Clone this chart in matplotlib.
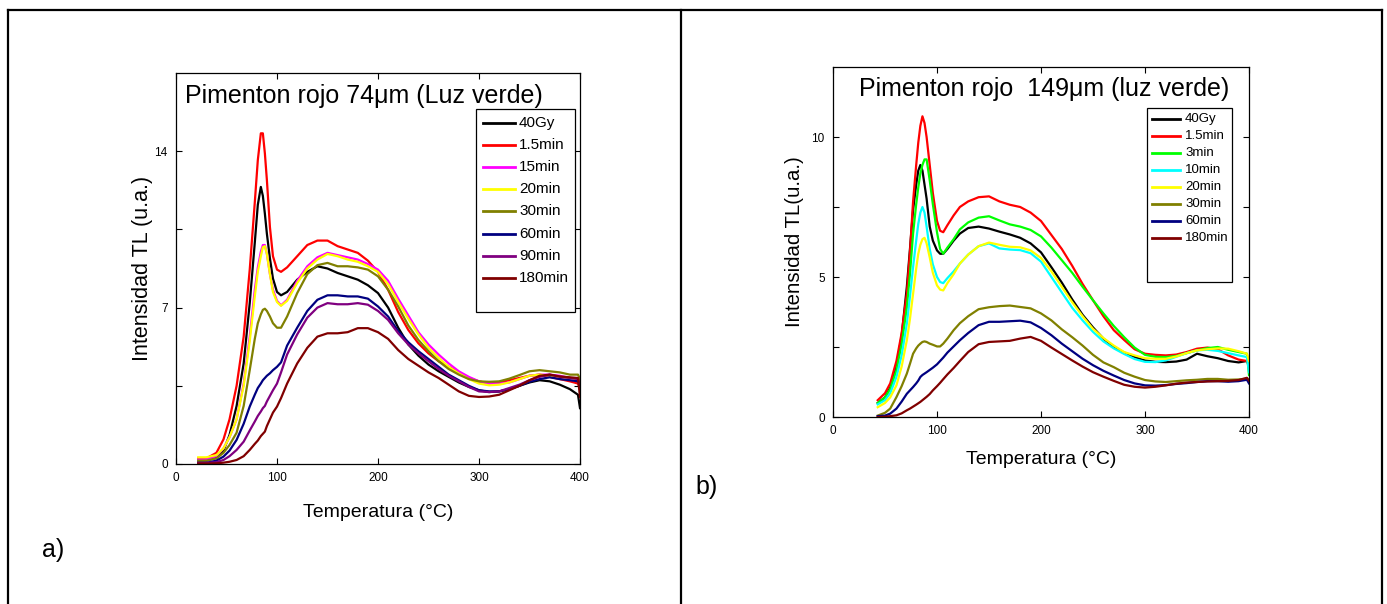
import matplotlib
matplotlib.use("Agg")
import matplotlib.pyplot as plt
from matplotlib.lines import Line2D
from matplotlib.patches import Rectangle

plt.rcParams['font.family'] = ['Liberation Sans', 'DejaVu Sans']

# ---------------- Panel a) data ----------------
temp_a = [22, 30, 40, 47, 53, 60, 67, 73, 78, 81, 84, 86, 88, 90, 93, 96, 100, 104, 110, 120,
          130, 140, 150, 160, 170, 180, 190, 200, 210, 220, 230, 240, 250, 260, 270, 280, 290,
          300, 310, 320, 330, 340, 350, 360, 370, 380, 390, 398, 400]
labels_a = ['40Gy', '1.5min', '15min', '20min', '30min', '60min', '90min', '180min']
colors_a = ['#000000', '#ff0000', '#ff00ff', '#ffff00', '#808000', '#000080', '#800080', '#800000']

a_40gy = [0.15, 0.15, 0.3, 0.6, 1.3, 2.6, 4.5, 7.2, 9.9, 11.6, 12.4, 12.0, 11.2, 10.3, 9.2, 8.3, 7.7, 7.55, 7.7, 8.25,
          8.6, 8.85, 8.75, 8.55, 8.4, 8.25, 8.0, 7.65, 7.0, 6.1, 5.35, 4.85, 4.45, 4.15, 3.9, 3.65, 3.45,
          3.3, 3.22, 3.25, 3.35, 3.5, 3.65, 3.75, 3.7, 3.55, 3.35, 3.1, 2.5]
a_1p5 = [0.25, 0.25, 0.5, 1.1, 2.0, 3.5, 5.7, 8.7, 11.7, 13.6, 14.8, 14.8, 13.9, 12.7, 10.6, 9.3, 8.7, 8.6, 8.8, 9.3,
         9.8, 10.0, 10.0, 9.75, 9.6, 9.45, 9.1, 8.6, 7.8, 6.8, 6.0, 5.4, 4.95, 4.6, 4.35, 4.1, 3.85,
         3.7, 3.6, 3.65, 3.75, 3.85, 3.95, 4.0, 3.9, 3.8, 3.7, 3.6, 3.4]
a_15 = [0.2, 0.2, 0.35, 0.7, 1.2, 2.0, 3.6, 5.7, 7.8, 8.8, 9.5, 9.8, 9.8, 9.4, 8.5, 7.8, 7.3, 7.1, 7.35, 8.2,
        8.85, 9.25, 9.45, 9.35, 9.25, 9.15, 8.95, 8.7, 8.2, 7.4, 6.65, 5.9, 5.35, 4.9, 4.5, 4.15, 3.9,
        3.7, 3.6, 3.6, 3.65, 3.8, 3.95, 4.0, 4.0, 3.95, 3.85, 3.8, 3.6]
a_20 = [0.3, 0.3, 0.4, 0.7, 1.2, 2.0, 3.5, 5.5, 7.5, 8.6, 9.3, 9.7, 9.75, 9.4, 8.5, 7.7, 7.25, 7.08, 7.3, 8.1,
        8.75, 9.15, 9.4, 9.3, 9.15, 9.05, 8.85, 8.6, 8.05, 7.25, 6.5, 5.8, 5.2, 4.75, 4.35, 4.05, 3.8,
        3.6, 3.52, 3.55, 3.65, 3.8, 3.95, 4.0, 3.95, 3.9, 3.85, 3.8, 3.6]
a_30 = [0.15, 0.15, 0.25, 0.5, 0.85, 1.4, 2.6, 4.2, 5.6, 6.3, 6.7, 6.9, 6.95, 6.85, 6.6, 6.3, 6.1, 6.1, 6.6, 7.65,
        8.5, 8.9, 9.0, 8.85, 8.85, 8.8, 8.7, 8.4, 7.8, 7.05, 6.2, 5.55, 5.05, 4.6, 4.25, 4.0, 3.8,
        3.7, 3.68, 3.7, 3.82, 3.98, 4.15, 4.2, 4.15, 4.1, 4.0, 4.0, 3.8]
a_60 = [0.05, 0.05, 0.15, 0.33, 0.6, 1.08, 1.8, 2.57, 3.1, 3.4, 3.6, 3.75, 3.85, 3.95, 4.06, 4.2, 4.35, 4.55, 5.3, 6.1,
        6.85, 7.35, 7.55, 7.55, 7.5, 7.5, 7.4, 7.05, 6.6, 5.95, 5.45, 5.05, 4.7, 4.35, 4.0, 3.75, 3.5,
        3.3, 3.25, 3.25, 3.35, 3.5, 3.68, 3.8, 3.88, 3.8, 3.75, 3.7, 3.5]
a_90 = [0.05, 0.05, 0.08, 0.18, 0.35, 0.63, 1.0, 1.5, 1.9, 2.15, 2.35, 2.5, 2.6, 2.8, 3.05, 3.3, 3.6, 4.1, 4.9, 5.8,
        6.55, 7.0, 7.2, 7.15, 7.15, 7.2, 7.13, 6.85, 6.45, 5.85, 5.35, 4.95, 4.6, 4.25, 3.95, 3.7, 3.45,
        3.25, 3.22, 3.25, 3.4, 3.55, 3.75, 3.9, 4.0, 3.9, 3.85, 3.8, 3.6]
a_180 = [0.02, 0.02, 0.03, 0.06, 0.1, 0.18, 0.35, 0.63, 0.9, 1.05, 1.25, 1.35, 1.45, 1.7, 2.0, 2.3, 2.57, 2.95, 3.6, 4.5,
         5.2, 5.7, 5.85, 5.85, 5.9, 6.08, 6.08, 5.9, 5.6, 5.1, 4.7, 4.4, 4.1, 3.85, 3.55, 3.25, 3.05,
         3.0, 3.02, 3.1, 3.3, 3.5, 3.75, 3.95, 4.0, 3.92, 3.88, 3.85, 3.0]
series_a = [a_40gy, a_1p5, a_15, a_20, a_30, a_60, a_90, a_180]

# ---------------- Panel b) data ----------------
temp_b = [43, 50, 55, 61, 66, 71, 74, 77, 80, 82, 84, 86, 88, 90, 93, 96, 100, 103, 106, 110, 116, 122,
          130, 140, 150, 160, 170, 180, 190, 200, 210, 220, 230, 240, 250, 260, 270, 280, 290, 300,
          310, 320, 330, 340, 350, 360, 370, 380, 390, 398, 400]
labels_b = ['40Gy', '1.5min', '3min', '10min', '20min', '30min', '60min', '180min']
colors_b = ['#000000', '#ff0000', '#00ff00', '#00ffff', '#ffff00', '#808000', '#000080', '#800000']

b_40gy = [0.5, 0.7, 1.05, 1.8, 2.9, 4.65, 6.0, 7.4, 8.3, 8.8, 9.0, 8.8, 8.3, 7.8, 6.8, 6.3, 5.95, 5.83, 5.83, 6.0, 6.3, 6.55,
          6.75, 6.8, 6.73, 6.62, 6.52, 6.4, 6.2, 5.88, 5.35, 4.8, 4.2, 3.65, 3.2, 2.8, 2.5, 2.3, 2.14, 2.02,
          1.97, 1.96, 1.98, 2.05, 2.26, 2.17, 2.1, 2.0, 1.95, 2.0, 1.9]
b_1p5 = [0.6, 0.85, 1.2, 2.0, 3.0, 4.4, 5.9, 7.7, 9.0, 9.8, 10.4, 10.74, 10.5, 10.0, 9.0, 8.0, 7.0, 6.65, 6.6, 6.85, 7.2, 7.5,
         7.7, 7.85, 7.88, 7.7, 7.58, 7.5, 7.3, 7.0, 6.5, 6.0, 5.4, 4.75, 4.17, 3.6, 3.1, 2.75, 2.42, 2.26,
         2.22, 2.2, 2.23, 2.32, 2.44, 2.48, 2.42, 2.2, 2.05, 2.0, 1.8]
b_3 = [0.5, 0.7, 1.0, 1.67, 2.6, 3.9, 5.1, 6.55, 7.6, 8.2, 8.7, 9.0, 9.2, 9.2, 8.45, 7.6, 6.6, 6.0, 5.83, 6.05, 6.35, 6.7,
       6.95, 7.12, 7.17, 7.02, 6.88, 6.8, 6.68, 6.45, 6.05, 5.6, 5.15, 4.65, 4.17, 3.7, 3.25, 2.85, 2.48, 2.22,
       2.15, 2.14, 2.18, 2.28, 2.38, 2.46, 2.5, 2.4, 2.32, 2.26, 1.5]
b_10 = [0.45, 0.6, 0.85, 1.43, 2.2, 3.33, 4.3, 5.36, 6.3, 6.9, 7.3, 7.5, 7.3, 6.8, 6.0, 5.45, 5.0, 4.82, 4.78, 4.96, 5.2, 5.48,
        5.8, 6.1, 6.2, 6.02, 5.98, 5.96, 5.85, 5.55, 5.0, 4.45, 3.9, 3.45, 3.04, 2.7, 2.45, 2.25, 2.07, 1.97,
        1.96, 2.02, 2.15, 2.28, 2.38, 2.4, 2.36, 2.28, 2.2, 2.14, 1.6]
b_20 = [0.35, 0.5, 0.7, 1.13, 1.8, 2.74, 3.5, 4.4, 5.3, 5.83, 6.15, 6.35, 6.4, 6.2, 5.7, 5.15, 4.7, 4.55, 4.52, 4.78, 5.1, 5.48,
        5.8, 6.1, 6.23, 6.15, 6.08, 6.06, 5.95, 5.68, 5.2, 4.65, 4.1, 3.6, 3.15, 2.82, 2.55, 2.32, 2.2, 2.1,
        2.08, 2.08, 2.16, 2.28, 2.38, 2.42, 2.45, 2.44, 2.35, 2.26, 2.0]
b_30 = [0.05, 0.15, 0.3, 0.71, 1.1, 1.55, 1.9, 2.26, 2.45, 2.55, 2.62, 2.68, 2.7, 2.68, 2.62, 2.58, 2.52, 2.52, 2.62, 2.8, 3.1, 3.35,
        3.6, 3.85, 3.92, 3.96, 3.98, 3.93, 3.88, 3.7, 3.45, 3.13, 2.85, 2.55, 2.22, 1.95, 1.78, 1.58, 1.44, 1.32,
        1.27, 1.25, 1.28, 1.31, 1.33, 1.36, 1.36, 1.33, 1.34, 1.37, 1.3]
b_60 = [0.03, 0.05, 0.12, 0.3, 0.55, 0.83, 0.95, 1.07, 1.2, 1.3, 1.43, 1.5, 1.55, 1.6, 1.68, 1.76, 1.88, 2.0, 2.12, 2.3, 2.52, 2.74,
        3.0, 3.28, 3.4, 3.4, 3.42, 3.44, 3.38, 3.18, 2.92, 2.62, 2.35, 2.08, 1.85, 1.65, 1.48, 1.32, 1.2, 1.13,
        1.12, 1.14, 1.18, 1.21, 1.25, 1.28, 1.28, 1.26, 1.28, 1.33, 1.2]
b_180 = [0.0, 0.01, 0.03, 0.06, 0.13, 0.24, 0.3, 0.37, 0.44, 0.49, 0.54, 0.6, 0.66, 0.72, 0.82, 0.95, 1.1, 1.22, 1.35, 1.52, 1.75, 2.0,
         2.32, 2.6, 2.68, 2.7, 2.72, 2.8, 2.86, 2.72, 2.48, 2.25, 2.02, 1.8, 1.6, 1.44, 1.29, 1.15, 1.08, 1.05,
         1.08, 1.13, 1.19, 1.23, 1.25, 1.27, 1.28, 1.29, 1.32, 1.4, 1.3]
series_b = [b_40gy, b_1p5, b_3, b_10, b_20, b_30, b_60, b_180]

xticks = [0, 100, 200, 300, 400]
yticks_a = [0, 3.5, 7, 10.5, 14]
yticklabels_a = ['0', '', '7', '', '14']
yticks_b = [0, 2.5, 5, 7.5, 10]
yticklabels_b = ['0', '', '5', '', '10']

W, H = 1387, 604
fig = plt.figure(figsize=(W / 100, H / 100), dpi=100)


def fx(px):
    return px / W


def fy(py):
    return 1 - py / H


# table-like borders
for (x0, y0, x1, y1) in [(8, 10, 1382, 10), (8, 10, 8, 604), (681, 10, 681, 604), (1382, 10, 1382, 604)]:
    fig.add_artist(Line2D([fx(x0), fx(x1)], [fy(y0), fy(y1)], transform=fig.transFigure,
                          color='black', lw=1.6, solid_capstyle='projecting'))


def setup(ax, yticks, yticklabels, ylim):
    ax.set_xlim(0, 400)
    ax.set_ylim(*ylim)
    ax.set_xticks(xticks)
    ax.set_yticks(yticks)
    ax.set_yticklabels(yticklabels)
    ax.tick_params(direction='in', top=True, right=True, length=4, width=0.8,
                   labelsize=8.5, pad=6)
    for s in ax.spines.values():
        s.set_linewidth(0.9)


def legend_box(fig_box, labels, colors, first_y, step, hx0, hx1, tx, fs):
    x0, y0, x1, y1 = fig_box
    fig.add_artist(Rectangle((fx(x0), fy(y1)), fx(x1) - fx(x0), fy(y0) - fy(y1),
                             transform=fig.transFigure, fill=True, facecolor='white',
                             edgecolor='black', lw=0.9, zorder=5))
    for i, (lab, c) in enumerate(zip(labels, colors)):
        yy = first_y + i * step
        fig.add_artist(Line2D([fx(hx0), fx(hx1)], [fy(yy), fy(yy)], transform=fig.transFigure,
                              color=c, lw=2.0, zorder=6))
        fig.text(fx(tx), fy(yy), lab, fontsize=fs, va='center', ha='left', zorder=7)


# Panel a
ax1 = fig.add_axes([fx(176), fy(464), fx(580) - fx(176), fy(73) - fy(464)])
for vals, c in zip(series_a, colors_a):
    ax1.plot(temp_a, vals, color=c, lw=1.6)
setup(ax1, yticks_a, yticklabels_a, (0, 17.5))
ax1.set_xlabel('Temperatura (°C)', fontsize=14, labelpad=14)
ax1.set_ylabel('Intensidad TL (u.a.)', fontsize=15.5, labelpad=1)
ax1.text(0.022, 0.923, 'Pimenton rojo 74\u03bcm (Luz verde)', transform=ax1.transAxes,
         fontsize=18, va='baseline', ha='left')
legend_box((476, 109, 575, 312), labels_a, colors_a, 123, 22.1, 483, 515, 519, 11)

# Panel b
ax2 = fig.add_axes([fx(833), fy(417), fx(1249) - fx(833), fy(67) - fy(417)])
for vals, c in zip(series_b, colors_b):
    ax2.plot(temp_b, vals, color=c, lw=1.6)
setup(ax2, yticks_b, yticklabels_b, (0, 12.5))
ax2.set_xlabel('Temperatura (°C)', fontsize=14, labelpad=10)
ax2.set_ylabel('Intensidad TL(u.a.)', fontsize=14.7, labelpad=5)
ax2.text(0.0625, 0.917, 'Pimenton rojo  149\u03bcm (luz verde)', transform=ax2.transAxes,
         fontsize=18, va='baseline', ha='left')
legend_box((1147, 108, 1232, 282), labels_b, colors_b, 119, 17.0, 1152, 1180, 1185, 9.5)

fig.text(fx(42), fy(550), 'a)', fontsize=18, va='center', ha='left')
fig.text(fx(695), fy(487), 'b)', fontsize=18, va='center', ha='left')

fig.savefig('out.png', dpi=100)
